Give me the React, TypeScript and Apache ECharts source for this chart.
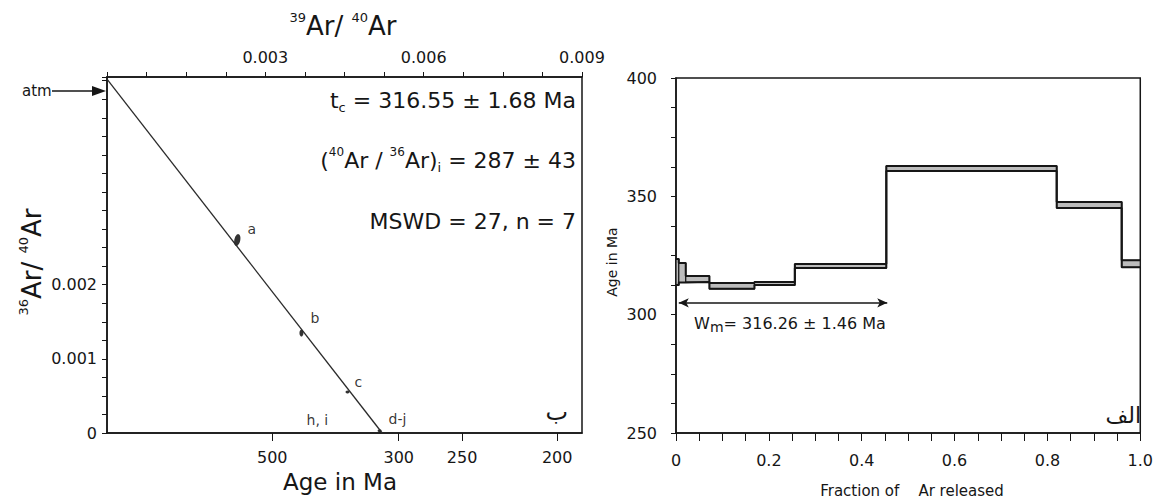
import React, { useEffect, useRef } from 'react';
import * as echarts from 'echarts';

// ---------- Left panel (inverse isochron) data ----------
const topTickLabels = [0.003, 0.006, 0.009];
const ageTickLabels = [500, 300, 250, 200];
const ageScaleK = 0.001; // 39Ar/40Ar = K / (exp(lambda t) - 1)
const lambdaPerMa = 5.543e-4;
const leftYLabels = [0, 0.001, 0.002];
const isochronAr39 = [0, 0.005214];
const isochronAr36 = [0.00477, 0];
const pointNames = ['a', 'b', 'c', 'd-j', 'h, i'];
const pointAr39 = [0.002468, 0.003684, 0.004557, 0.005165, 0.003987];
const pointAr36 = [0.002602, 0.001348, 0.000553, 0.00003, 0.0];
const pointVisible = [true, true, true, true, false];

// ---------- Right panel (age spectrum) data ----------
const stepEdges = [0, 0.006, 0.021, 0.072, 0.169, 0.256, 0.453, 0.82, 0.96, 1.0];
const stepHigh = [323.5, 321.8, 316.3, 313.4, 313.8, 321.4, 362.8, 347.6, 323.0];
const stepLow = [312.5, 313.6, 313.8, 310.9, 312.5, 319.7, 360.7, 345.1, 320.0];
const plateauFrom = 0.006;
const plateauTo = 0.455;
const plateauArrowAge = 305;

const FONT = 'DejaVu Sans';
const INK = '#161616';

const ageToAr39 = (t: number) => ageScaleK / (Math.exp(lambdaPerMa * t) - 1);
const ageTickValues = ageTickLabels.map(ageToAr39);

const near = (a: number, b: number) => Math.abs(a - b) < 1e-9;

function buildOption() {
  const upperPts: number[][] = [];
  const lowerPts: number[][] = [];
  stepHigh.forEach((h, i) => {
    upperPts.push([stepEdges[i], h], [stepEdges[i + 1], h]);
    lowerPts.push([stepEdges[i], stepLow[i]], [stepEdges[i + 1], stepLow[i]]);
  });
  const stepData = stepHigh.map((h, i) => [stepEdges[i], stepEdges[i + 1], stepLow[i], h]);

  const labelOffsets: Record<string, number[]> = {
    a: [2, -11],
    b: [3, -15],
    c: [1, -10],
    'd-j': [3, -12],
    'h, i': [0, -2],
  };

  const pointData = pointNames.map((n, i) => ({
    name: n,
    value: [pointAr39[i], pointAr36[i]],
    symbolSize: pointVisible[i] ? (n === 'a' ? [6, 12] : n === 'b' ? [4, 7] : [4, 3]) : 0,
    symbolRotate: n === 'a' ? -12 : 0,
    label: {
      show: true,
      position: pointVisible[i] ? 'right' : 'top',
      distance: 4,
      offset: labelOffsets[n],
      color: '#000',
      fontFamily: FONT,
      fontSize: 14,
    },
  }));

  const axisLineStyle = { color: INK, width: 1.5 };
  const labelStyle = { color: INK, fontFamily: FONT, fontSize: 16 };
  const tick = (length: number, extra: any = {}) => ({
    show: true, inside: false, length, lineStyle: { color: INK, width: 1 }, ...extra,
  });

  return {
    animation: false,
    backgroundColor: '#ffffff',
    grid: [
      { left: 107, top: 77, width: 475, height: 356, show: true, borderColor: INK, borderWidth: 1.5, backgroundColor: 'transparent' },
      { left: 676, top: 78, width: 473, height: 355, show: true, borderColor: INK, borderWidth: 1.5, backgroundColor: 'transparent' },
    ],
    xAxis: [
      {
        type: 'value', gridIndex: 0, position: 'top', min: 0, max: 0.009, interval: 0.00075,
        axisLine: { show: true, onZero: false, lineStyle: axisLineStyle },
        axisTick: tick(5),
        minorTick: { show: false },
        splitLine: { show: false },
        axisLabel: {
          ...labelStyle, margin: 12, inside: false,
          formatter: (v: number) => (topTickLabels.some((t) => near(t, v)) ? v.toFixed(3) : ''),
        },
      },
      {
        type: 'value', gridIndex: 0, position: 'bottom', min: 0, max: 0.009,
        axisLine: { show: true, onZero: false, lineStyle: axisLineStyle },
        axisTick: tick(8, { customValues: ageTickValues }),
        minorTick: { show: false },
        splitLine: { show: false },
        axisLabel: {
          ...labelStyle, margin: 16, inside: false, customValues: ageTickValues,
          formatter: (v: number) => {
            const i = ageTickValues.findIndex((t) => Math.abs(t - v) < 1e-7);
            return i >= 0 ? String(ageTickLabels[i]) : '';
          },
        },
      },
      {
        type: 'value', gridIndex: 1, position: 'bottom', min: 0, max: 1, interval: 0.05,
        axisLine: { show: true, onZero: false, lineStyle: axisLineStyle },
        axisTick: tick(8),
        minorTick: { show: false },
        splitLine: { show: false },
        axisLabel: {
          ...labelStyle, margin: 19, inside: false,
          formatter: (v: number) => {
            if (Math.abs(v * 5 - Math.round(v * 5)) > 1e-6) return '';
            if (near(v, 0)) return '0';
            return v.toFixed(1);
          },
        },
      },
    ],
    yAxis: [
      {
        type: 'value', gridIndex: 0, position: 'left', min: 0, max: 0.0048, interval: 0.00025,
        axisLine: { show: true, onZero: false, lineStyle: axisLineStyle },
        axisTick: tick(5),
        minorTick: { show: false },
        splitLine: { show: false },
        axisLabel: {
          ...labelStyle, margin: 10, inside: false,
          formatter: (v: number) => {
            if (!leftYLabels.some((t) => near(t, v))) return '';
            return near(v, 0) ? '0' : v.toFixed(3);
          },
        },
      },
      {
        type: 'value', gridIndex: 1, position: 'left', min: 250, max: 400, interval: 12.5,
        axisLine: { show: true, onZero: false, lineStyle: axisLineStyle },
        axisTick: tick(5),
        minorTick: { show: false },
        splitLine: { show: false },
        axisLabel: {
          ...labelStyle, margin: 19, inside: false,
          formatter: (v: number) => (Math.abs(v / 50 - Math.round(v / 50)) < 1e-6 ? String(v) : ''),
        },
      },
    ],
    series: [
      {
        type: 'line', xAxisIndex: 0, yAxisIndex: 0,
        data: isochronAr39.map((x, i) => [x, isochronAr36[i]]),
        showSymbol: false, symbol: 'none',
        lineStyle: { color: '#2a2a2a', width: 1.3 },
        silent: true,
      },
      {
        type: 'scatter', xAxisIndex: 0, yAxisIndex: 0,
        data: pointData,
        itemStyle: { color: '#000' },
        label: {
          formatter: '{b}', color: '#000', fontFamily: FONT, fontSize: 14,
        },
        silent: true,
      },
      {
        type: 'custom', xAxisIndex: 2, yAxisIndex: 1,
        data: stepData,
        encode: { x: [0, 1], y: [2, 3] },
        renderItem: (params: any, api: any) => {
          const p0 = api.coord([api.value(0), api.value(3)]);
          const p1 = api.coord([api.value(1), api.value(2)]);
          return {
            type: 'rect',
            shape: { x: p0[0], y: p0[1], width: p1[0] - p0[0], height: p1[1] - p0[1] },
            style: { fill: '#bcbcbc', stroke: INK, lineWidth: 1.2 },
          };
        },
        silent: true,
      },
      {
        type: 'line', xAxisIndex: 2, yAxisIndex: 1,
        data: upperPts, showSymbol: false, symbol: 'none',
        lineStyle: { color: INK, width: 2 },
        silent: true,
        markLine: {
          silent: true,
          symbol: ['arrow', 'arrow'],
          symbolSize: [7, 10],
          label: { show: false },
          lineStyle: { color: INK, width: 1.5, type: 'solid' },
          data: [[{ coord: [plateauFrom, plateauArrowAge] }, { coord: [plateauTo, plateauArrowAge] }]],
        },
      },
      {
        type: 'line', xAxisIndex: 2, yAxisIndex: 1,
        data: lowerPts, showSymbol: false, symbol: 'none',
        lineStyle: { color: INK, width: 2 },
        silent: true,
      },
    ],
    graphic: [
      // left panel title (top axis name)
      {
        type: 'text', x: 343, y: 26,
        style: {
          text: '{s|39}{b|Ar/ }{s|40}{b|Ar}', align: 'center', verticalAlign: 'middle', fill: INK,
          rich: {
            s: { fontSize: 13, fontFamily: FONT, fill: INK, verticalAlign: 'top', lineHeight: 30 },
            b: { fontSize: 26, fontFamily: FONT, fill: INK, lineHeight: 30 },
          },
        },
      },
      // left panel y-axis name
      {
        type: 'text', x: 32, y: 262, rotation: Math.PI / 2,
        style: {
          text: '{s|36}{b|Ar/ }{s|40}{b|Ar}', align: 'center', verticalAlign: 'middle', fill: INK,
          rich: {
            s: { fontSize: 13, fontFamily: FONT, fill: INK, verticalAlign: 'top', lineHeight: 30 },
            b: { fontSize: 26, fontFamily: FONT, fill: INK, lineHeight: 30 },
          },
        },
      },
      // atm arrow
      {
        type: 'text', x: 22, y: 91,
        style: { text: 'atm', fontFamily: FONT, fontSize: 15, fill: INK, align: 'left', verticalAlign: 'middle' },
      },
      { type: 'line', shape: { x1: 52, y1: 91, x2: 96, y2: 91 }, style: { stroke: INK, lineWidth: 1.5 } },
      { type: 'polygon', shape: { points: [[92, 86], [106, 91], [92, 96]] }, style: { fill: INK } },
      // statistics
      {
        type: 'text', x: 576, y: 100,
        style: {
          text: '{b|t}{sub|c}{b| = 316.55 ± 1.68 Ma}', align: 'right', verticalAlign: 'middle', fill: INK,
          rich: {
            b: { fontSize: 22, fontFamily: FONT, fill: INK, lineHeight: 28 },
            sub: { fontSize: 13, fontFamily: FONT, fill: INK, verticalAlign: 'bottom', lineHeight: 28 },
          },
        },
      },
      {
        type: 'text', x: 576, y: 160,
        style: {
          text: '{b|(}{s|40}{b|Ar / }{s|36}{b|Ar)}{sub|i}{b| = 287 ± 43}', align: 'right', verticalAlign: 'middle', fill: INK,
          rich: {
            b: { fontSize: 22, fontFamily: FONT, fill: INK, lineHeight: 28 },
            s: { fontSize: 12, fontFamily: FONT, fill: INK, verticalAlign: 'top', lineHeight: 28 },
            sub: { fontSize: 13, fontFamily: FONT, fill: INK, verticalAlign: 'bottom', lineHeight: 28 },
          },
        },
      },
      {
        type: 'text', x: 576, y: 221,
        style: { text: 'MSWD = 27, n = 7', fontFamily: FONT, fontSize: 22, fill: INK, align: 'right', verticalAlign: 'middle' },
      },
      // bottom axis name (left)
      {
        type: 'text', x: 340, y: 482,
        style: { text: 'Age in Ma', fontFamily: FONT, fontSize: 23, fill: INK, align: 'center', verticalAlign: 'middle' },
      },
      {
        type: 'text', x: 568, y: 412,
        style: { text: 'ب', fontFamily: FONT, fontSize: 24, fill: INK, align: 'right', verticalAlign: 'middle' },
      },
      // right panel texts
      {
        type: 'text', x: 612, y: 262, rotation: Math.PI / 2,
        style: { text: 'Age in Ma', fontFamily: FONT, fontSize: 14, fill: INK, align: 'center', verticalAlign: 'middle' },
      },
      {
        type: 'text', x: 912, y: 491,
        style: { text: 'Fraction of    Ar released', fontFamily: FONT, fontSize: 15, fill: INK, align: 'center', verticalAlign: 'middle' },
      },
      {
        type: 'text', x: 790, y: 323,
        style: {
          text: '{b|W}{sub|m}{b|= 316.26 ± 1.46 Ma}', align: 'center', verticalAlign: 'middle', fill: INK,
          rich: {
            b: { fontSize: 16, fontFamily: FONT, fill: INK, lineHeight: 22 },
            sub: { fontSize: 14, fontFamily: FONT, fill: INK, verticalAlign: 'bottom', lineHeight: 22 },
          },
        },
      },
      {
        type: 'text', x: 1141, y: 415,
        style: { text: 'الف', fontFamily: FONT, fontSize: 22, fill: INK, align: 'right', verticalAlign: 'middle' },
      },
    ],
  };
}

export default function App() {
  const ref = useRef<HTMLDivElement>(null);
  useEffect(() => {
    if (!ref.current) return;
    const chart = echarts.init(ref.current, undefined, { renderer: 'svg' });
    chart.setOption(buildOption() as any);
    return () => chart.dispose();
  }, []);
  return (
    <div
      ref={ref}
      style={{ position: 'fixed', left: 0, top: 0, width: 1156, height: 501, background: '#ffffff' }}
    />
  );
}
